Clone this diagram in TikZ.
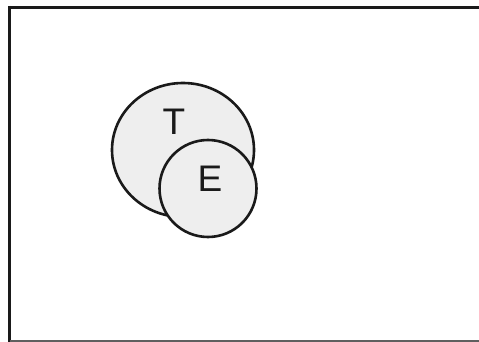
\documentclass[tikz,border=0pt]{standalone}
\usepackage{fontspec}
\setmainfont{Liberation Sans}
\usetikzlibrary{shapes.geometric}
\definecolor{fillgray}{HTML}{EEEEEE}
\definecolor{ink}{HTML}{1A1A1A}
\begin{document}
\begin{tikzpicture}[x=1pt,y=-1pt,
  blob/.style={draw=ink,fill=fillgray,line width=2.6pt},
  lbl/.style={font=\fontsize{37}{40}\selectfont,text=ink,inner sep=0pt}]
\useasboundingbox (0,0) rectangle (479,342);
\begin{scope}
\clip (0,0) rectangle (479,342);
\draw[ink,line width=3pt] (9.5,7.5) -- (520,7.5);
\draw[ink,line width=3pt] (9.5,6) -- (9.5,345);
\draw[ink!70,line width=3pt] (9.5,341.5) -- (520,341.5);
\end{scope}
\node[blob,ellipse,minimum width=142pt,minimum height=134pt,inner sep=0pt] (T) at (183,150) {};
\node[blob,circle,minimum size=97pt,inner sep=0pt] (E) at (208,188.5) {};
\node[lbl] (tT) at (174,122) {T};
\node[lbl] (tE) at (210,178.5) {E};
\end{tikzpicture}
\end{document}
